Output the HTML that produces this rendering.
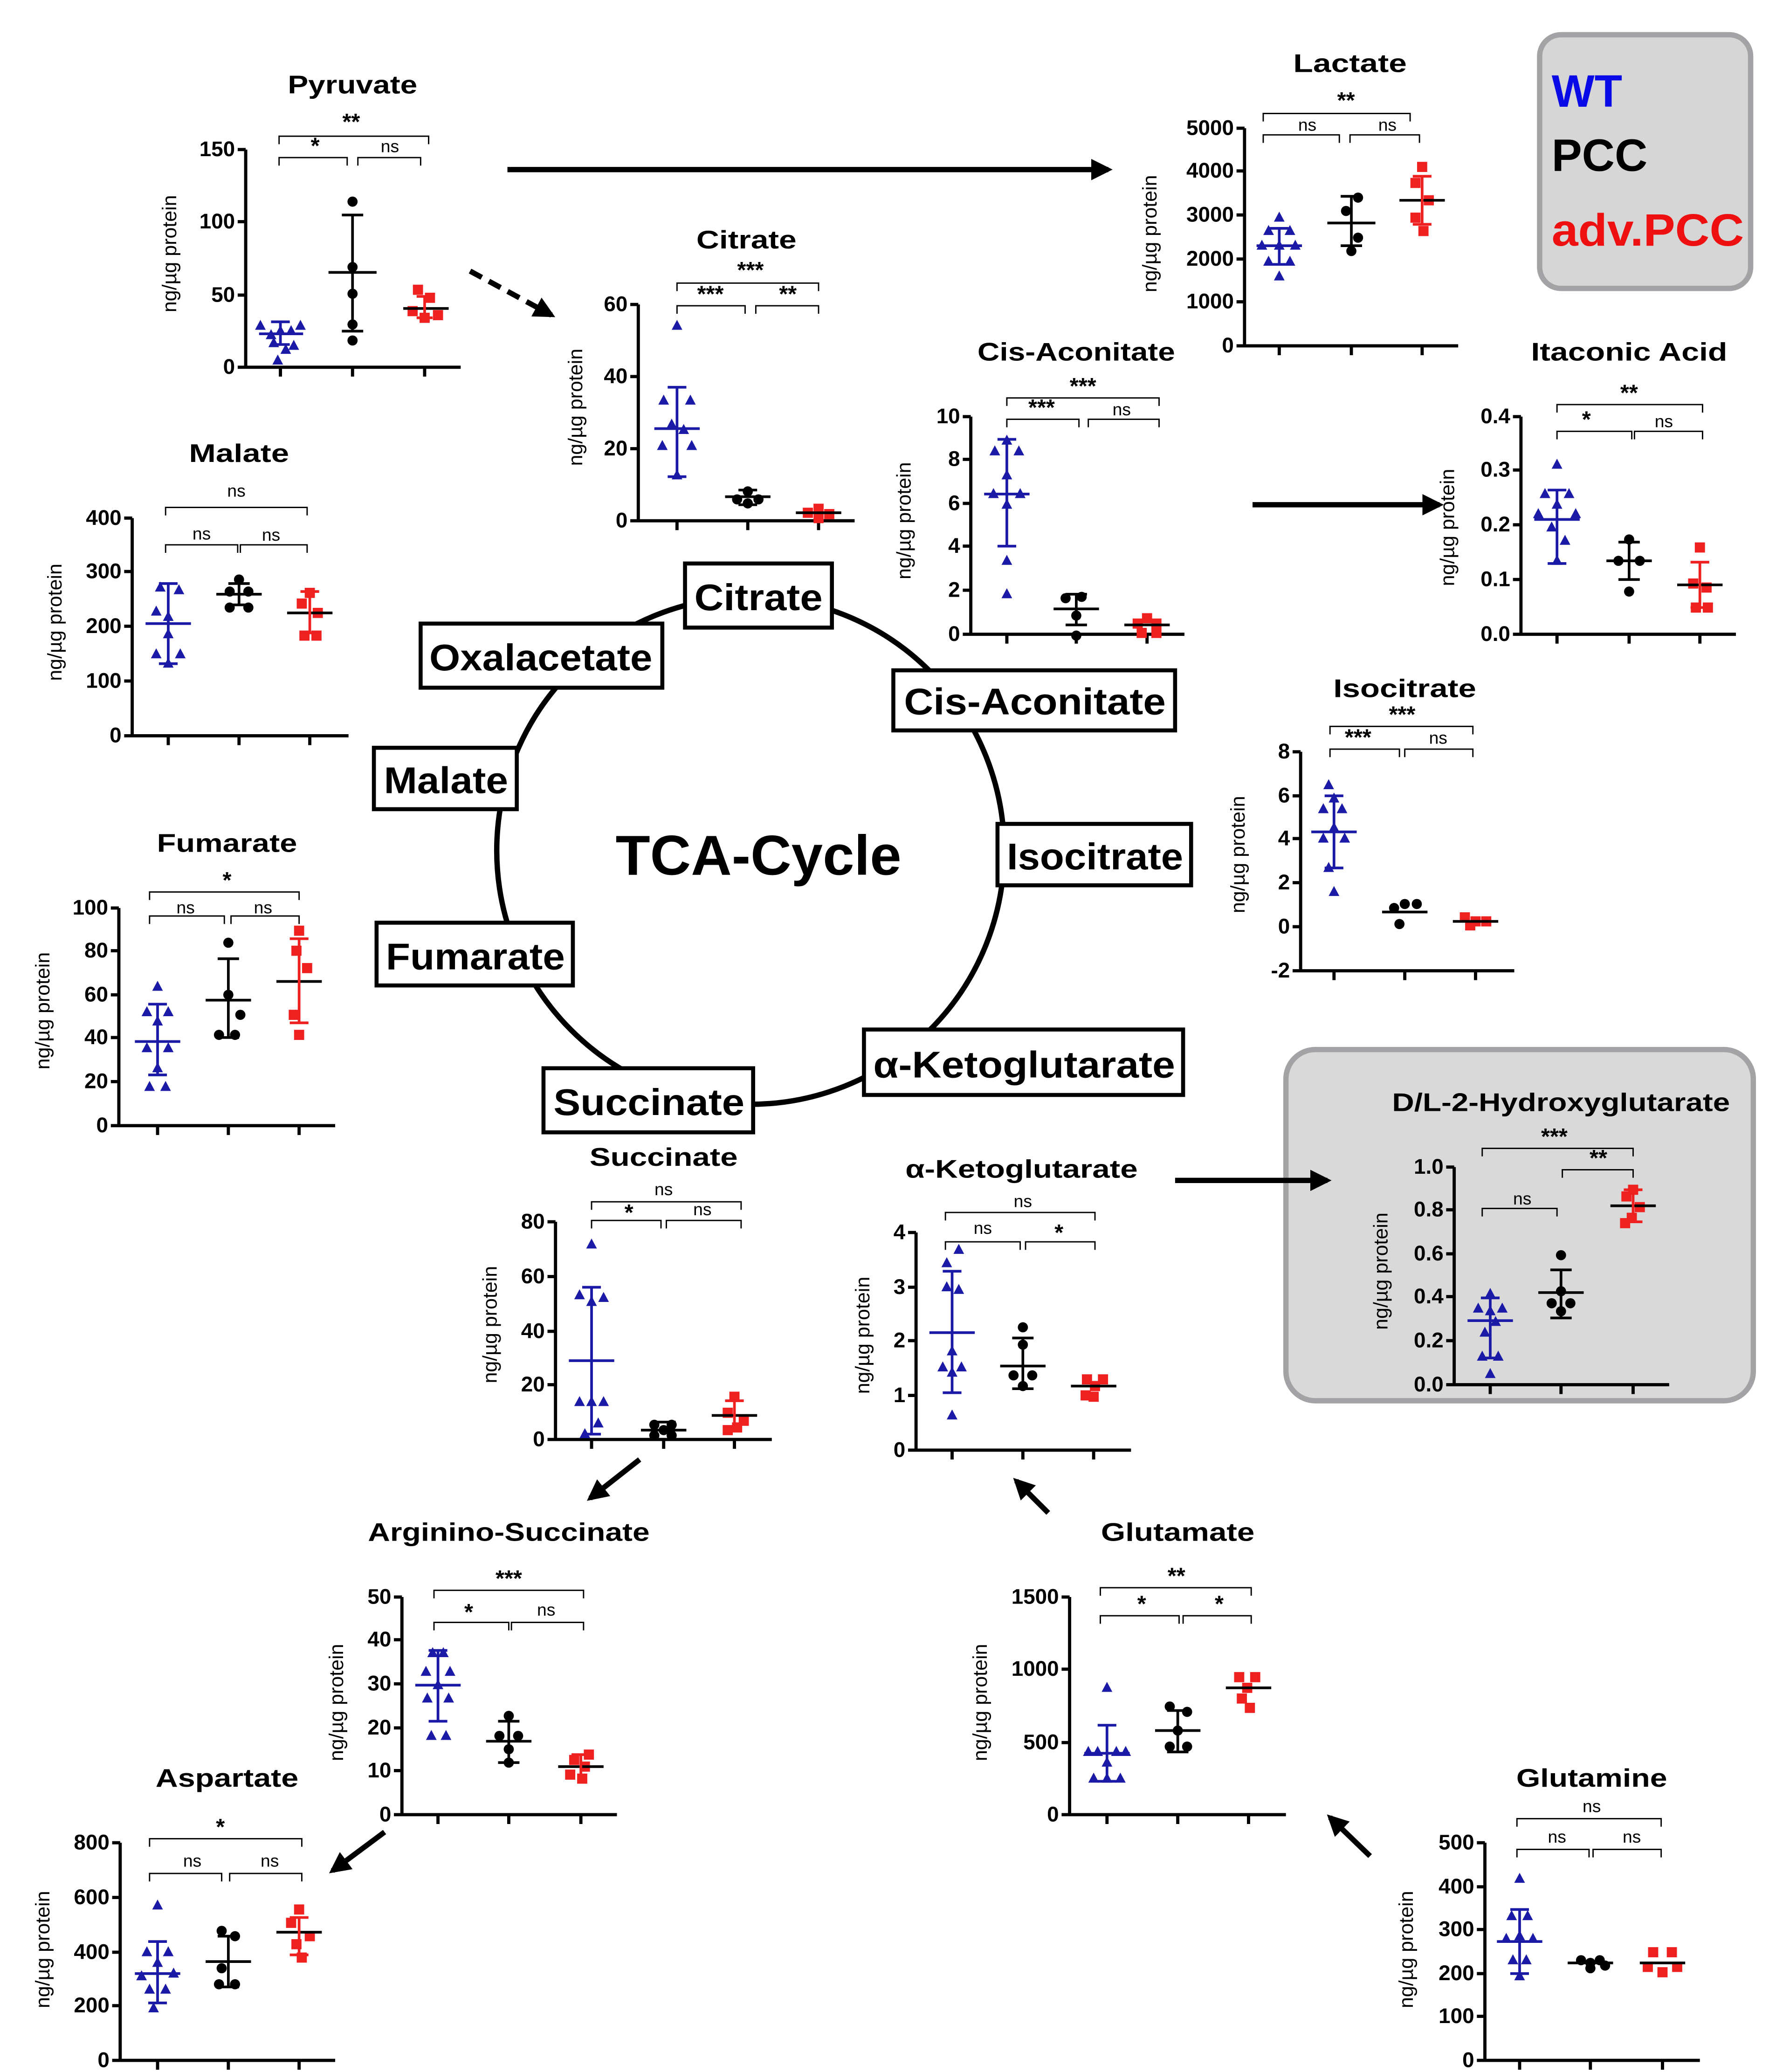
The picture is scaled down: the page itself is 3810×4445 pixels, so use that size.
<!DOCTYPE html>
<html><head><meta charset="utf-8"><style>
html,body{margin:0;padding:0;background:#fff;}
svg{display:block;}
text{font-family:"Liberation Sans",Arial,sans-serif;}
.t{font-weight:bold;font-size:19px;text-anchor:middle;}
.k{font-weight:bold;font-size:16px;text-anchor:end;}
.yl{font-size:15px;text-anchor:middle;}
.s{font-weight:bold;font-size:17px;text-anchor:middle;}
.n{font-size:13px;text-anchor:middle;}
.ax{fill:none;stroke:#000;stroke-width:2.4;}
.br{fill:none;stroke:#000;stroke-width:1;}
.bx{fill:#fff;stroke:#000;stroke-width:3;}
.bl{font-weight:bold;font-size:28px;text-anchor:middle;}
.eb{fill:none;stroke-width:2;}
</style></head><body>
<svg width="3810" height="4445" viewBox="0 0 1330 1551.7" preserveAspectRatio="none" xmlns="http://www.w3.org/2000/svg">
<defs>
<path id="tr" d="M0,-4.5L4,3L-4,3Z"/>
<circle id="ci" r="3.8"/>
<rect id="sq" x="-3.8" y="-3.8" width="7.6" height="7.6"/>
<marker id="ah" viewBox="0 0 10 10" refX="8" refY="5" markerWidth="4" markerHeight="4" orient="auto"><path d="M0,0L10,5L0,10Z" fill="#000"/></marker>
</defs>

<!-- Legend -->
<rect x="1153" y="26" width="158" height="190" rx="16" fill="#d6d6d6" stroke="#a3a3a6" stroke-width="4"/>
<text x="1162" y="80" font-size="34" font-weight="bold" fill="#0a0ae6">WT</text>
<text x="1162" y="128" font-size="34" font-weight="bold" fill="#000">PCC</text>
<text x="1162" y="184" font-size="34" font-weight="bold" fill="#ee1010" textLength="144" lengthAdjust="spacingAndGlyphs">adv.PCC</text>

<!-- D/L-2HG box -->
<rect x="963" y="786" width="350" height="263" rx="22" fill="#d9d9d9" stroke="#a3a3a6" stroke-width="4"/>

<!-- TCA circle -->
<circle cx="562" cy="637" r="190" fill="none" stroke="#000" stroke-width="4"/>
<text x="568" y="655" font-size="42" font-weight="bold" text-anchor="middle" textLength="214" lengthAdjust="spacingAndGlyphs">TCA-Cycle</text>
<rect class="bx" x="513" y="422" width="110" height="48"/><text class="bl" x="568" y="457" textLength="96" lengthAdjust="spacingAndGlyphs">Citrate</text>
<rect class="bx" x="315" y="467" width="181" height="48"/><text class="bl" x="405" y="502" textLength="167" lengthAdjust="spacingAndGlyphs">Oxalacetate</text>
<rect class="bx" x="669" y="502" width="211" height="45"/><text class="bl" x="775" y="535" textLength="196" lengthAdjust="spacingAndGlyphs">Cis-Aconitate</text>
<rect class="bx" x="280" y="560" width="107" height="46"/><text class="bl" x="334" y="594" textLength="93" lengthAdjust="spacingAndGlyphs">Malate</text>
<rect class="bx" x="747" y="617" width="145" height="46"/><text class="bl" x="820" y="651" textLength="132" lengthAdjust="spacingAndGlyphs">Isocitrate</text>
<rect class="bx" x="282" y="691" width="147" height="47"/><text class="bl" x="356" y="726" textLength="134" lengthAdjust="spacingAndGlyphs">Fumarate</text>
<rect class="bx" x="647" y="771" width="239" height="49"/><text class="bl" x="767" y="807" textLength="226" lengthAdjust="spacingAndGlyphs">α-Ketoglutarate</text>
<rect class="bx" x="407" y="800" width="157" height="48"/><text class="bl" x="486" y="835" textLength="143" lengthAdjust="spacingAndGlyphs">Succinate</text>

<!-- Arrows -->
<g stroke="#000" stroke-width="4" fill="none">
<line x1="380" y1="127" x2="830" y2="127" marker-end="url(#ah)"/>
<line x1="352" y1="203" x2="413" y2="236" stroke-dasharray="10,6" marker-end="url(#ah)"/>
<line x1="938" y1="378" x2="1078" y2="378" marker-end="url(#ah)"/>
<line x1="880" y1="884" x2="994" y2="884" marker-end="url(#ah)"/>
<line x1="479" y1="1093" x2="442" y2="1122" marker-end="url(#ah)"/>
<line x1="785" y1="1133" x2="761" y2="1109" marker-end="url(#ah)"/>
<line x1="288" y1="1372" x2="249" y2="1401" marker-end="url(#ah)"/>
<line x1="1026" y1="1390" x2="996" y2="1361" marker-end="url(#ah)"/>
</g>

<!-- ===== Pyruvate ===== -->
<text class="t" x="264" y="70" textLength="97" lengthAdjust="spacingAndGlyphs">Pyruvate</text>
<path class="ax" d="M184,112V275H345M178,112H184M178,166H184M178,221H184M178,275H184M210,275V282M264,275V282M318,275V282"/>
<text class="k" x="176" y="117">150</text><text class="k" x="176" y="171">100</text><text class="k" x="176" y="226">50</text><text class="k" x="176" y="280">0</text>
<text class="yl" transform="translate(132,190) rotate(-90)">ng/µg protein</text>
<path class="br" d="M209,108V102H321V108M209,124V118H260V124M268,124V118H315V124"/>
<text class="s" x="263" y="97">**</text><text class="s" x="236" y="115">*</text><text class="n" x="292" y="114">ns</text>
<g fill="#1a1aa6"><use href="#tr" x="195" y="244"/><use href="#tr" x="203" y="251"/><use href="#tr" x="210" y="248"/><use href="#tr" x="218" y="248"/><use href="#tr" x="225" y="244"/><use href="#tr" x="205" y="257"/><use href="#tr" x="214" y="262"/><use href="#tr" x="220" y="259"/><use href="#tr" x="208" y="270"/></g>
<path class="eb" stroke="#1a1aa6" d="M210,241V258M203,241H217M203,258H217M194,250H227"/>
<g fill="#000"><use href="#ci" x="264" y="151"/><use href="#ci" x="264" y="200"/><use href="#ci" x="264" y="220"/><use href="#ci" x="264" y="243"/><use href="#ci" x="264" y="255"/></g>
<path class="eb" stroke="#000" d="M264,161V248M256,161H272M256,248H272M246,204H282"/>
<g fill="#ee2020"><use href="#sq" x="313" y="217"/><use href="#sq" x="322" y="223"/><use href="#sq" x="309" y="233"/><use href="#sq" x="318" y="238"/><use href="#sq" x="328" y="236"/></g>
<path class="eb" stroke="#000" d="M302,231H336"/><path class="eb" stroke="#ee2020" d="M318,222V238M312,222H324M312,238H324"/>

<!-- ===== Lactate ===== -->
<text class="t" x="1011" y="54" textLength="85" lengthAdjust="spacingAndGlyphs">Lactate</text>
<path class="ax" d="M932,96V259H1092M926,96H932M926,128H932M926,161H932M926,194H932M926,226H932M926,259H932M958,259V266M1012,259V266M1065,259V266"/>
<text class="k" x="924" y="101">5000</text><text class="k" x="924" y="133">4000</text><text class="k" x="924" y="166">3000</text><text class="k" x="924" y="199">2000</text><text class="k" x="924" y="231">1000</text><text class="k" x="924" y="264">0</text>
<text class="yl" transform="translate(866,175) rotate(-90)">ng/µg protein</text>
<path class="br" d="M946,91V85H1056V91M946,107V101H1003V107M1011,107V101H1063V107"/>
<text class="s" x="1008" y="81">**</text><text class="n" x="979" y="98">ns</text><text class="n" x="1039" y="98">ns</text>
<g fill="#1a1aa6"><use href="#tr" x="958" y="163"/><use href="#tr" x="950" y="173"/><use href="#tr" x="966" y="173"/><use href="#tr" x="945" y="184"/><use href="#tr" x="958" y="184"/><use href="#tr" x="970" y="184"/><use href="#tr" x="950" y="196"/><use href="#tr" x="966" y="196"/><use href="#tr" x="958" y="207"/></g>
<path class="eb" stroke="#1a1aa6" d="M958,171V198M951,171H965M951,198H965M941,184H975"/>
<g fill="#000"><use href="#ci" x="1017" y="148"/><use href="#ci" x="1008" y="158"/><use href="#ci" x="1017" y="178"/><use href="#ci" x="1012" y="188"/></g>
<path class="eb" stroke="#000" d="M1012,147V184M1004,147H1020M1004,184H1020M994,167H1030"/>
<g fill="#ee2020"><use href="#sq" x="1065" y="125"/><use href="#sq" x="1060" y="137"/><use href="#sq" x="1070" y="150"/><use href="#sq" x="1060" y="163"/><use href="#sq" x="1066" y="173"/></g>
<path class="eb" stroke="#000" d="M1048,150H1082"/><path class="eb" stroke="#ee2020" d="M1065,132V168M1058,132H1072M1058,168H1072"/>

<!-- ===== Citrate ===== -->
<text class="t" x="559" y="186" textLength="75" lengthAdjust="spacingAndGlyphs">Citrate</text>
<path class="ax" d="M478,228V390H640M472,228H478M472,282H478M472,336H478M472,390H478M507,390V397M560,390V397M613,390V397"/>
<text class="k" x="470" y="233">60</text><text class="k" x="470" y="287">40</text><text class="k" x="470" y="341">20</text><text class="k" x="470" y="395">0</text>
<text class="yl" transform="translate(436,305) rotate(-90)">ng/µg protein</text>
<path class="br" d="M507,218V212H613V218M507,235V229H558V235M566,235V229H613V235"/>
<text class="s" x="562" y="208">***</text><text class="s" x="532" y="226">***</text><text class="s" x="590" y="226">**</text>
<g fill="#1a1aa6"><use href="#tr" x="507" y="244"/><use href="#tr" x="497" y="300"/><use href="#tr" x="517" y="300"/><use href="#tr" x="503" y="318"/><use href="#tr" x="512" y="322"/><use href="#tr" x="496" y="334"/><use href="#tr" x="518" y="334"/><use href="#tr" x="507" y="356"/></g>
<path class="eb" stroke="#1a1aa6" d="M507,290V357M500,290H514M500,357H514M490,321H524"/>
<g fill="#000"><use href="#ci" x="552" y="374"/><use href="#ci" x="560" y="368"/><use href="#ci" x="568" y="374"/><use href="#ci" x="560" y="377"/></g>
<path class="eb" stroke="#000" d="M543,372H577M553,367H567M553,378H567"/>
<g fill="#ee2020"><use href="#sq" x="605" y="384"/><use href="#sq" x="613" y="381"/><use href="#sq" x="621" y="385"/><use href="#sq" x="613" y="388"/></g>
<path class="eb" stroke="#000" d="M596,384H630"/>

<!-- ===== Cis-Aconitate ===== -->
<text class="t" x="806" y="270" textLength="148" lengthAdjust="spacingAndGlyphs">Cis-Aconitate</text>
<path class="ax" d="M727,312V475H887M721,312H727M721,344H727M721,377H727M721,409H727M721,442H727M721,475H727M754,475V482M806,475V482M859,475V482"/>
<text class="k" x="719" y="317">10</text><text class="k" x="719" y="349">8</text><text class="k" x="719" y="382">6</text><text class="k" x="719" y="414">4</text><text class="k" x="719" y="447">2</text><text class="k" x="719" y="480">0</text>
<text class="yl" transform="translate(682,390) rotate(-90)">ng/µg protein</text>
<path class="br" d="M754,304V298H868V304M754,320V314H808V320M815,320V314H868V320"/>
<text class="s" x="811" y="295">***</text><text class="s" x="780" y="311">***</text><text class="n" x="840" y="311">ns</text>
<g fill="#1a1aa6"><use href="#tr" x="754" y="330"/><use href="#tr" x="745" y="338"/><use href="#tr" x="763" y="338"/><use href="#tr" x="754" y="356"/><use href="#tr" x="744" y="370"/><use href="#tr" x="764" y="370"/><use href="#tr" x="754" y="378"/><use href="#tr" x="754" y="420"/><use href="#tr" x="754" y="445"/></g>
<path class="eb" stroke="#1a1aa6" d="M754,329V409M747,329H761M747,409H761M737,370H771"/>
<g fill="#000"><use href="#ci" x="798" y="448"/><use href="#ci" x="810" y="447"/><use href="#ci" x="806" y="461"/><use href="#ci" x="806" y="476"/></g>
<path class="eb" stroke="#000" d="M806,445V468M798,445H814M798,468H814M789,456H823"/>
<g fill="#ee2020"><use href="#sq" x="852" y="467"/><use href="#sq" x="859" y="463"/><use href="#sq" x="866" y="467"/><use href="#sq" x="855" y="474"/><use href="#sq" x="866" y="474"/></g>
<path class="eb" stroke="#000" d="M842,468H876"/>

<!-- ===== Itaconic Acid ===== -->
<text class="t" x="1220" y="270" textLength="147" lengthAdjust="spacingAndGlyphs">Itaconic Acid</text>
<path class="ax" d="M1139,312V475H1300M1133,312H1139M1133,352H1139M1133,393H1139M1133,434H1139M1133,475H1139M1166,475V482M1220,475V482M1273,475V482"/>
<text class="k" x="1131" y="317">0.4</text><text class="k" x="1131" y="357">0.3</text><text class="k" x="1131" y="398">0.2</text><text class="k" x="1131" y="439">0.1</text><text class="k" x="1131" y="480">0.0</text>
<text class="yl" transform="translate(1089,395) rotate(-90)">ng/µg protein</text>
<path class="br" d="M1166,309V303H1275V309M1166,329V323H1222V329M1224,329V323H1275V329"/>
<text class="s" x="1220" y="300">**</text><text class="s" x="1188" y="320">*</text><text class="n" x="1246" y="320">ns</text>
<g fill="#1a1aa6"><use href="#tr" x="1166" y="348"/><use href="#tr" x="1157" y="370"/><use href="#tr" x="1175" y="370"/><use href="#tr" x="1166" y="378"/><use href="#tr" x="1152" y="385"/><use href="#tr" x="1180" y="385"/><use href="#tr" x="1162" y="395"/><use href="#tr" x="1172" y="405"/><use href="#tr" x="1166" y="420"/></g>
<path class="eb" stroke="#1a1aa6" d="M1166,367V422M1159,367H1173M1159,422H1173M1149,389H1183"/>
<g fill="#000"><use href="#ci" x="1220" y="404"/><use href="#ci" x="1212" y="420"/><use href="#ci" x="1228" y="420"/><use href="#ci" x="1220" y="443"/></g>
<path class="eb" stroke="#000" d="M1220,406V434M1212,406H1228M1212,434H1228M1203,420H1237"/>
<g fill="#ee2020"><use href="#sq" x="1273" y="410"/><use href="#sq" x="1268" y="437"/><use href="#sq" x="1278" y="440"/><use href="#sq" x="1270" y="455"/><use href="#sq" x="1279" y="455"/></g>
<path class="eb" stroke="#000" d="M1256,438H1290"/><path class="eb" stroke="#ee2020" d="M1273,421V455M1266,421H1280M1266,455H1280"/>

<!-- ===== Malate ===== -->
<text class="t" x="179" y="346" textLength="75" lengthAdjust="spacingAndGlyphs">Malate</text>
<path class="ax" d="M99,388V551H261M93,388H99M93,428H99M93,469H99M93,510H99M93,551H99M126,551V558M179,551V558M232,551V558"/>
<text class="k" x="91" y="393">400</text><text class="k" x="91" y="433">300</text><text class="k" x="91" y="474">200</text><text class="k" x="91" y="515">100</text><text class="k" x="91" y="556">0</text>
<text class="yl" transform="translate(46,466) rotate(-90)">ng/µg protein</text>
<path class="br" d="M124,386V380H230V386M124,414V408H178V414M180,414V408H230V414"/>
<text class="n" x="177" y="372">ns</text><text class="n" x="151" y="404">ns</text><text class="n" x="203" y="405">ns</text>
<g fill="#1a1aa6"><use href="#tr" x="120" y="440"/><use href="#tr" x="134" y="442"/><use href="#tr" x="117" y="458"/><use href="#tr" x="126" y="462"/><use href="#tr" x="126" y="475"/><use href="#tr" x="117" y="490"/><use href="#tr" x="135" y="490"/><use href="#tr" x="126" y="497"/></g>
<path class="eb" stroke="#1a1aa6" d="M126,437V497M119,437H133M119,497H133M109,467H143"/>
<g fill="#000"><use href="#ci" x="179" y="434"/><use href="#ci" x="172" y="443"/><use href="#ci" x="186" y="443"/><use href="#ci" x="172" y="455"/><use href="#ci" x="186" y="455"/></g>
<path class="eb" stroke="#000" d="M179,437V453M171,437H187M171,453H187M162,445H196"/>
<g fill="#ee2020"><use href="#sq" x="232" y="444"/><use href="#sq" x="226" y="452"/><use href="#sq" x="238" y="459"/><use href="#sq" x="228" y="476"/><use href="#sq" x="237" y="476"/></g>
<path class="eb" stroke="#000" d="M215,459H249"/><path class="eb" stroke="#ee2020" d="M232,443V474M225,443H239M225,474H239"/>

<!-- ===== Fumarate ===== -->
<text class="t" x="170" y="638" textLength="105" lengthAdjust="spacingAndGlyphs">Fumarate</text>
<path class="ax" d="M89,680V843H251M83,680H89M83,712H89M83,745H89M83,777H89M83,810H89M83,843H89M118,843V850M171,843V850M224,843V850"/>
<text class="k" x="81" y="685">100</text><text class="k" x="81" y="717">80</text><text class="k" x="81" y="750">60</text><text class="k" x="81" y="782">40</text><text class="k" x="81" y="815">20</text><text class="k" x="81" y="848">0</text>
<text class="yl" transform="translate(37,757) rotate(-90)">ng/µg protein</text>
<path class="br" d="M112,674V668H224V674M112,692V686H168V692M173,692V686H224V692"/>
<text class="s" x="170" y="665">*</text><text class="n" x="139" y="684">ns</text><text class="n" x="197" y="684">ns</text>
<g fill="#1a1aa6"><use href="#tr" x="118" y="739"/><use href="#tr" x="110" y="758"/><use href="#tr" x="126" y="758"/><use href="#tr" x="118" y="765"/><use href="#tr" x="110" y="785"/><use href="#tr" x="126" y="785"/><use href="#tr" x="118" y="800"/><use href="#tr" x="112" y="814"/><use href="#tr" x="124" y="814"/></g>
<path class="eb" stroke="#1a1aa6" d="M118,752V805M111,752H125M111,805H125M101,780H135"/>
<g fill="#000"><use href="#ci" x="171" y="706"/><use href="#ci" x="171" y="745"/><use href="#ci" x="180" y="760"/><use href="#ci" x="164" y="775"/><use href="#ci" x="176" y="775"/></g>
<path class="eb" stroke="#000" d="M171,718V777M163,718H179M163,777H179M154,749H188"/>
<g fill="#ee2020"><use href="#sq" x="224" y="697"/><use href="#sq" x="222" y="712"/><use href="#sq" x="230" y="725"/><use href="#sq" x="220" y="760"/><use href="#sq" x="224" y="775"/></g>
<path class="eb" stroke="#000" d="M207,735H241"/><path class="eb" stroke="#ee2020" d="M224,703V766M217,703H231M217,766H231"/>

<!-- ===== Isocitrate ===== -->
<text class="t" x="1052" y="522" textLength="107" lengthAdjust="spacingAndGlyphs">Isocitrate</text>
<path class="ax" d="M974,563V727H1134M968,563H974M968,596H974M968,628H974M968,661H974M968,694H974M968,727H974M999,727V734M1052,727V734M1105,727V734"/>
<text class="k" x="966" y="568">8</text><text class="k" x="966" y="601">6</text><text class="k" x="966" y="633">4</text><text class="k" x="966" y="666">2</text><text class="k" x="966" y="699">0</text><text class="k" x="966" y="732">-2</text>
<text class="yl" transform="translate(932,640) rotate(-90)">ng/µg protein</text>
<path class="br" d="M996,550V544H1103V550M996,567V561H1048V567M1052,567V561H1103V567"/>
<text class="s" x="1050" y="541">***</text><text class="s" x="1017" y="558">***</text><text class="n" x="1077" y="557">ns</text>
<g fill="#1a1aa6"><use href="#tr" x="995" y="588"/><use href="#tr" x="999" y="598"/><use href="#tr" x="991" y="606"/><use href="#tr" x="1005" y="606"/><use href="#tr" x="999" y="620"/><use href="#tr" x="991" y="628"/><use href="#tr" x="1007" y="628"/><use href="#tr" x="995" y="650"/><use href="#tr" x="999" y="668"/></g>
<path class="eb" stroke="#1a1aa6" d="M999,596V650M992,596H1006M992,650H1006M982,623H1016"/>
<g fill="#000"><use href="#ci" x="1044" y="680"/><use href="#ci" x="1052" y="677"/><use href="#ci" x="1061" y="677"/><use href="#ci" x="1048" y="692"/></g>
<path class="eb" stroke="#000" d="M1035,683H1069"/>
<g fill="#ee2020"><use href="#sq" x="1097" y="687"/><use href="#sq" x="1105" y="690"/><use href="#sq" x="1113" y="690"/><use href="#sq" x="1101" y="693"/></g>
<path class="eb" stroke="#000" d="M1088,690H1122"/>

<!-- ===== D/L-2-Hydroxyglutarate ===== -->
<text class="t" x="1169" y="832" textLength="253" lengthAdjust="spacingAndGlyphs">D/L-2-Hydroxyglutarate</text>
<path class="ax" d="M1089,874V1037H1250M1083,874H1089M1083,906H1089M1083,939H1089M1083,971H1089M1083,1004H1089M1083,1037H1089M1116,1037V1044M1169,1037V1044M1223,1037V1044"/>
<text class="k" x="1081" y="879">1.0</text><text class="k" x="1081" y="911">0.8</text><text class="k" x="1081" y="944">0.6</text><text class="k" x="1081" y="976">0.4</text><text class="k" x="1081" y="1009">0.2</text><text class="k" x="1081" y="1042">0.0</text>
<text class="yl" transform="translate(1039,952) rotate(-90)">ng/µg protein</text>
<path class="br" d="M1110,866V860H1223V866M1110,911V905H1166V911M1170,882V876H1223V882"/>
<text class="s" x="1164" y="857">***</text><text class="n" x="1140" y="902">ns</text><text class="s" x="1197" y="873">**</text>
<g fill="#1a1aa6"><use href="#tr" x="1116" y="969"/><use href="#tr" x="1107" y="980"/><use href="#tr" x="1125" y="980"/><use href="#tr" x="1116" y="982"/><use href="#tr" x="1120" y="990"/><use href="#tr" x="1112" y="998"/><use href="#tr" x="1110" y="1016"/><use href="#tr" x="1122" y="1016"/><use href="#tr" x="1116" y="1029"/></g>
<path class="eb" stroke="#1a1aa6" d="M1116,972V1017M1109,972H1123M1109,1017H1123M1099,989H1133"/>
<g fill="#000"><use href="#ci" x="1169" y="940"/><use href="#ci" x="1169" y="967"/><use href="#ci" x="1162" y="976"/><use href="#ci" x="1176" y="976"/><use href="#ci" x="1169" y="982"/></g>
<path class="eb" stroke="#000" d="M1169,951V987M1161,951H1177M1161,987H1177M1152,968H1186"/>
<g fill="#ee2020"><use href="#sq" x="1223" y="891"/><use href="#sq" x="1218" y="896"/><use href="#sq" x="1228" y="904"/><use href="#sq" x="1222" y="912"/><use href="#sq" x="1217" y="916"/></g>
<path class="eb" stroke="#000" d="M1206,903H1240"/><path class="eb" stroke="#ee2020" d="M1223,891V915M1216,891H1230M1216,915H1230"/>

<!-- ===== Succinate ===== -->
<text class="t" x="497" y="873" textLength="111" lengthAdjust="spacingAndGlyphs">Succinate</text>
<path class="ax" d="M416,915V1078H578M410,915H416M410,956H416M410,997H416M410,1037H416M410,1078H416M443,1078V1085M497,1078V1085M550,1078V1085"/>
<text class="k" x="408" y="920">80</text><text class="k" x="408" y="961">60</text><text class="k" x="408" y="1002">40</text><text class="k" x="408" y="1042">20</text><text class="k" x="408" y="1083">0</text>
<text class="yl" transform="translate(372,992) rotate(-90)">ng/µg protein</text>
<path class="br" d="M443,906V900H555V906M443,920V914H495V920M499,920V914H555V920"/>
<text class="n" x="497" y="895">ns</text><text class="s" x="471" y="914">*</text><text class="n" x="526" y="910">ns</text>
<g fill="#1a1aa6"><use href="#tr" x="443" y="932"/><use href="#tr" x="434" y="970"/><use href="#tr" x="452" y="972"/><use href="#tr" x="443" y="975"/><use href="#tr" x="434" y="1050"/><use href="#tr" x="443" y="1050"/><use href="#tr" x="452" y="1050"/><use href="#tr" x="448" y="1066"/><use href="#tr" x="438" y="1074"/></g>
<path class="eb" stroke="#1a1aa6" d="M443,964V1074M436,964H450M436,1074H450M426,1019H460"/>
<g fill="#000"><use href="#ci" x="490" y="1067"/><use href="#ci" x="503" y="1067"/><use href="#ci" x="497" y="1071"/><use href="#ci" x="490" y="1075"/><use href="#ci" x="503" y="1075"/></g>
<path class="eb" stroke="#000" d="M480,1071H514M488,1065H506"/>
<g fill="#ee2020"><use href="#sq" x="550" y="1046"/><use href="#sq" x="545" y="1058"/><use href="#sq" x="557" y="1064"/><use href="#sq" x="545" y="1071"/><use href="#sq" x="552" y="1069"/></g>
<path class="eb" stroke="#000" d="M533,1060H567"/><path class="eb" stroke="#ee2020" d="M550,1049V1071M543,1049H557"/>

<!-- ===== α-Ketoglutarate ===== -->
<text class="t" x="765" y="882" textLength="174" lengthAdjust="spacingAndGlyphs">α-Ketoglutarate</text>
<path class="ax" d="M686,923V1086H847M680,923H686M680,964H686M680,1004H686M680,1045H686M680,1086H686M713,1086V1093M766,1086V1093M819,1086V1093"/>
<text class="k" x="678" y="928">4</text><text class="k" x="678" y="969">3</text><text class="k" x="678" y="1009">2</text><text class="k" x="678" y="1050">1</text><text class="k" x="678" y="1091">0</text>
<text class="yl" transform="translate(651,1000) rotate(-90)">ng/µg protein</text>
<path class="br" d="M708,914V908H820V914M708,936V930H764V936M768,936V930H820V936"/>
<text class="n" x="766" y="904">ns</text><text class="n" x="736" y="924">ns</text><text class="s" x="793" y="929">*</text>
<g fill="#1a1aa6"><use href="#tr" x="718" y="936"/><use href="#tr" x="709" y="946"/><use href="#tr" x="709" y="964"/><use href="#tr" x="718" y="966"/><use href="#tr" x="713" y="1012"/><use href="#tr" x="706" y="1024"/><use href="#tr" x="720" y="1024"/><use href="#tr" x="713" y="1028"/><use href="#tr" x="713" y="1060"/></g>
<path class="eb" stroke="#1a1aa6" d="M713,952V1043M706,952H720M706,1043H720M696,998H730"/>
<g fill="#000"><use href="#ci" x="766" y="994"/><use href="#ci" x="766" y="1007"/><use href="#ci" x="759" y="1030"/><use href="#ci" x="773" y="1030"/><use href="#ci" x="766" y="1038"/></g>
<path class="eb" stroke="#000" d="M766,1002V1040M758,1002H774M758,1040H774M749,1023H783"/>
<g fill="#ee2020"><use href="#sq" x="814" y="1033"/><use href="#sq" x="826" y="1033"/><use href="#sq" x="820" y="1038"/><use href="#sq" x="813" y="1045"/><use href="#sq" x="819" y="1046"/></g>
<path class="eb" stroke="#000" d="M802,1038H836"/>

<!-- ===== Arginino-Succinate ===== -->
<text class="t" x="381" y="1154" textLength="211" lengthAdjust="spacingAndGlyphs">Arginino-Succinate</text>
<path class="ax" d="M301,1196V1359H462M295,1196H301M295,1228H301M295,1261H301M295,1294H301M295,1326H301M295,1359H301M328,1359V1366M381,1359V1366M435,1359V1366"/>
<text class="k" x="293" y="1201">50</text><text class="k" x="293" y="1233">40</text><text class="k" x="293" y="1266">30</text><text class="k" x="293" y="1299">20</text><text class="k" x="293" y="1331">10</text><text class="k" x="293" y="1364">0</text>
<text class="yl" transform="translate(257,1275) rotate(-90)">ng/µg protein</text>
<path class="br" d="M325,1197V1191H437V1197M325,1221V1215H381V1221M383,1221V1215H437V1221"/>
<text class="s" x="381" y="1188">***</text><text class="s" x="351" y="1213">*</text><text class="n" x="409" y="1210">ns</text>
<g fill="#1a1aa6"><use href="#tr" x="324" y="1238"/><use href="#tr" x="332" y="1238"/><use href="#tr" x="319" y="1252"/><use href="#tr" x="337" y="1252"/><use href="#tr" x="328" y="1262"/><use href="#tr" x="320" y="1272"/><use href="#tr" x="336" y="1272"/><use href="#tr" x="323" y="1300"/><use href="#tr" x="334" y="1300"/></g>
<path class="eb" stroke="#1a1aa6" d="M328,1236V1289M321,1236H335M321,1289H335M311,1262H345"/>
<g fill="#000"><use href="#ci" x="381" y="1285"/><use href="#ci" x="374" y="1300"/><use href="#ci" x="388" y="1300"/><use href="#ci" x="381" y="1310"/><use href="#ci" x="381" y="1320"/></g>
<path class="eb" stroke="#000" d="M381,1289V1320M373,1289H389M373,1320H389M364,1304H398"/>
<g fill="#ee2020"><use href="#sq" x="441" y="1314"/><use href="#sq" x="430" y="1318"/><use href="#sq" x="438" y="1323"/><use href="#sq" x="427" y="1329"/><use href="#sq" x="436" y="1332"/></g>
<path class="eb" stroke="#000" d="M418,1323H452"/><path class="eb" stroke="#ee2020" d="M435,1314V1332M428,1314H442"/>

<!-- ===== Glutamate ===== -->
<text class="t" x="882" y="1154" textLength="115" lengthAdjust="spacingAndGlyphs">Glutamate</text>
<path class="ax" d="M801,1196V1359H963M795,1196H801M795,1250H801M795,1305H801M795,1359H801M829,1359V1366M882,1359V1366M935,1359V1366"/>
<text class="k" x="793" y="1201">1500</text><text class="k" x="793" y="1255">1000</text><text class="k" x="793" y="1310">500</text><text class="k" x="793" y="1364">0</text>
<text class="yl" transform="translate(739,1275) rotate(-90)">ng/µg protein</text>
<path class="br" d="M824,1195V1189H937V1195M824,1216V1210H883V1216M886,1216V1210H937V1216"/>
<text class="s" x="881" y="1186">**</text><text class="s" x="855" y="1207">*</text><text class="s" x="913" y="1207">*</text>
<g fill="#1a1aa6"><use href="#tr" x="829" y="1264"/><use href="#tr" x="815" y="1312"/><use href="#tr" x="822" y="1312"/><use href="#tr" x="836" y="1312"/><use href="#tr" x="843" y="1312"/><use href="#tr" x="829" y="1320"/><use href="#tr" x="819" y="1332"/><use href="#tr" x="839" y="1332"/><use href="#tr" x="829" y="1332"/></g>
<path class="eb" stroke="#1a1aa6" d="M829,1292V1334M822,1292H836M822,1334H836M812,1313H846"/>
<g fill="#000"><use href="#ci" x="876" y="1278"/><use href="#ci" x="889" y="1282"/><use href="#ci" x="882" y="1296"/><use href="#ci" x="876" y="1308"/><use href="#ci" x="889" y="1308"/></g>
<path class="eb" stroke="#000" d="M882,1281V1312M874,1281H890M874,1312H890M865,1296H899"/>
<g fill="#ee2020"><use href="#sq" x="928" y="1256"/><use href="#sq" x="940" y="1256"/><use href="#sq" x="934" y="1264"/><use href="#sq" x="930" y="1272"/><use href="#sq" x="936" y="1279"/></g>
<path class="eb" stroke="#000" d="M918,1264H952"/>

<!-- ===== Aspartate ===== -->
<text class="t" x="170" y="1338" textLength="107" lengthAdjust="spacingAndGlyphs">Aspartate</text>
<path class="ax" d="M90,1380V1543H251M84,1380H90M84,1421H90M84,1462H90M84,1502H90M84,1543H90M118,1543V1550M171,1543V1550M224,1543V1550"/>
<text class="k" x="82" y="1385">800</text><text class="k" x="82" y="1426">600</text><text class="k" x="82" y="1467">400</text><text class="k" x="82" y="1507">200</text><text class="k" x="82" y="1548">0</text>
<text class="yl" transform="translate(37,1460) rotate(-90)">ng/µg protein</text>
<path class="br" d="M112,1383V1377H226V1383M112,1409V1403H166V1409M172,1409V1403H226V1409"/>
<text class="s" x="165" y="1374">*</text><text class="n" x="144" y="1398">ns</text><text class="n" x="202" y="1398">ns</text>
<g fill="#1a1aa6"><use href="#tr" x="118" y="1427"/><use href="#tr" x="110" y="1462"/><use href="#tr" x="126" y="1462"/><use href="#tr" x="118" y="1470"/><use href="#tr" x="106" y="1480"/><use href="#tr" x="130" y="1478"/><use href="#tr" x="112" y="1490"/><use href="#tr" x="124" y="1490"/><use href="#tr" x="115" y="1504"/></g>
<path class="eb" stroke="#1a1aa6" d="M118,1454V1500M111,1454H125M111,1500H125M101,1478H135"/>
<g fill="#000"><use href="#ci" x="166" y="1446"/><use href="#ci" x="176" y="1450"/><use href="#ci" x="166" y="1474"/><use href="#ci" x="176" y="1486"/><use href="#ci" x="164" y="1486"/></g>
<path class="eb" stroke="#000" d="M171,1450V1488M163,1450H179M163,1488H179M154,1469H188"/>
<g fill="#ee2020"><use href="#sq" x="224" y="1430"/><use href="#sq" x="218" y="1440"/><use href="#sq" x="232" y="1450"/><use href="#sq" x="222" y="1456"/><use href="#sq" x="226" y="1466"/></g>
<path class="eb" stroke="#000" d="M207,1447H241"/><path class="eb" stroke="#ee2020" d="M224,1436V1464M217,1436H231M217,1464H231"/>

<!-- ===== Glutamine ===== -->
<text class="t" x="1192" y="1338" textLength="113" lengthAdjust="spacingAndGlyphs">Glutamine</text>
<path class="ax" d="M1112,1380V1543H1273M1106,1380H1112M1106,1413H1112M1106,1445H1112M1106,1478H1112M1106,1510H1112M1106,1543H1112M1138,1543V1550M1191,1543V1550M1245,1543V1550"/>
<text class="k" x="1104" y="1385">500</text><text class="k" x="1104" y="1418">400</text><text class="k" x="1104" y="1450">300</text><text class="k" x="1104" y="1483">200</text><text class="k" x="1104" y="1515">100</text><text class="k" x="1104" y="1548">0</text>
<text class="yl" transform="translate(1058,1460) rotate(-90)">ng/µg protein</text>
<path class="br" d="M1136,1368V1362H1244V1368M1136,1391V1385H1190V1391M1193,1391V1385H1244V1391"/>
<text class="n" x="1192" y="1357">ns</text><text class="n" x="1166" y="1380">ns</text><text class="n" x="1222" y="1380">ns</text>
<g fill="#1a1aa6"><use href="#tr" x="1138" y="1407"/><use href="#tr" x="1132" y="1435"/><use href="#tr" x="1144" y="1435"/><use href="#tr" x="1128" y="1452"/><use href="#tr" x="1138" y="1450"/><use href="#tr" x="1148" y="1452"/><use href="#tr" x="1133" y="1468"/><use href="#tr" x="1143" y="1468"/><use href="#tr" x="1138" y="1480"/></g>
<path class="eb" stroke="#1a1aa6" d="M1138,1430V1478M1131,1430H1145M1131,1478H1145M1121,1454H1155"/>
<g fill="#000"><use href="#ci" x="1184" y="1468"/><use href="#ci" x="1191" y="1470"/><use href="#ci" x="1198" y="1468"/><use href="#ci" x="1191" y="1474"/><use href="#ci" x="1202" y="1472"/></g>
<path class="eb" stroke="#000" d="M1174,1470H1208"/>
<g fill="#ee2020"><use href="#sq" x="1238" y="1462"/><use href="#sq" x="1252" y="1462"/><use href="#sq" x="1234" y="1473"/><use href="#sq" x="1256" y="1473"/><use href="#sq" x="1245" y="1477"/></g>
<path class="eb" stroke="#000" d="M1228,1470H1262"/>
</svg>
</body></html>
